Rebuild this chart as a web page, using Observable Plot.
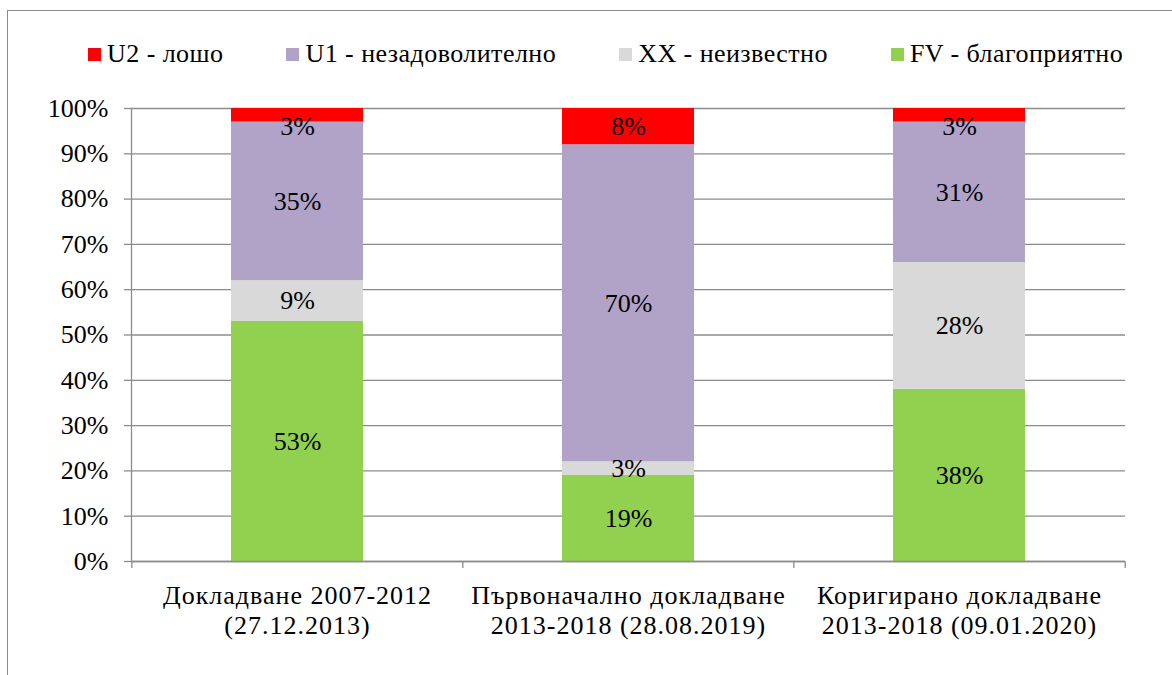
<!DOCTYPE html>
<html>
<head>
<meta charset="utf-8">
<script src="https://cdn.jsdelivr.net/npm/d3@7"></script>
<script src="https://cdn.jsdelivr.net/npm/@observablehq/plot@0.6"></script>
<style>
html,body{margin:0;padding:0;background:#fff;overflow:hidden;}
body{width:1172px;height:675px;position:relative;font-family:'Liberation Serif', serif;color:#000;}
#border{position:absolute;left:7px;top:10px;width:1200px;height:700px;border-left:1.5px solid #8a8a8a;border-top:1.5px solid #8a8a8a;}
#chart{position:absolute;left:0;top:0;width:1172px;}
#legend{height:90px;position:relative;}
#legend .row{position:absolute;left:88px;top:40px;height:28px;display:flex;align-items:center;gap:63px;font-family:'Liberation Serif', serif;font-size:26px;line-height:28px;letter-spacing:0.45px;white-space:nowrap;}
#legend .item{display:flex;align-items:center;}
#legend .sw{width:13px;height:13px;margin-right:6px;flex:none;}
</style>
</head>
<body>
<div id="border"></div>
<div id="chart">
  <div id="legend"><div class="row"></div></div>
  <div id="plot"></div>
</div>
<script>
// ---- data ----
const categories = ["Докладване 2007-2012", "Първоначално докладване", "Коригирано докладване"];
const categoryLabels = ["Докладване 2007-2012\n(27.12.2013)", "Първоначално докладване\n2013-2018 (28.08.2019)", "Коригирано докладване\n2013-2018 (09.01.2020)"];
const legendOrder = ["U2 - лошо", "U1 - незадоволително", "XX - неизвестно", "FV - благоприятно"];
const stackOrder = ["FV - благоприятно", "XX - неизвестно", "U1 - незадоволително", "U2 - лошо"];
const fvValues = [53, 19, 38];
const xxValues = [9, 3, 28];
const u1Values = [35, 70, 31];
const u2Values = [3, 8, 3];
const seriesColors = {"U2 - лошо": "#ff0000", "U1 - незадоволително": "#b1a2c8", "XX - неизвестно": "#d9d9d9", "FV - благоприятно": "#92d050"};
const yTicks = [0, 10, 20, 30, 40, 50, 60, 70, 80, 90, 100];

const valuesBySeries = {
  "FV - благоприятно": fvValues,
  "XX - неизвестно": xxValues,
  "U1 - незадоволително": u1Values,
  "U2 - лошо": u2Values
};

// build stacked table
const table = [];
categories.forEach((cat, i) => {
  let acc = 0;
  stackOrder.forEach(s => {
    const v = valuesBySeries[s][i];
    table.push({cat, series: s, value: v, y1: acc, y2: acc + v});
    acc += v;
  });
});
const labelOf = Object.fromEntries(categories.map((c, i) => [c, categoryLabels[i]]));

// legend
const row = document.querySelector("#legend .row");
legendOrder.forEach(s => {
  const it = document.createElement("div");
  it.className = "item";
  const sw = document.createElement("span");
  sw.className = "sw";
  sw.style.background = seriesColors[s];
  const tx = document.createElement("span");
  tx.textContent = s;
  it.appendChild(sw); it.appendChild(tx);
  row.appendChild(it);
});

// plot
const W = 1172, H = 585;
const mL = 131, mR = 47, mT = 18, mB = 114;
const pIn = 0.6, pOut = 0.3;
const step = (W - mL - mR) / (categories.length - pIn + 2 * pOut);
const gray = "#8c8c8c";
const serif = "'Liberation Serif', serif";

const chart = Plot.plot({
  width: W, height: H,
  marginLeft: mL, marginRight: mR, marginTop: mT, marginBottom: mB,
  style: {fontFamily: serif, fontSize: "26px", color: "#000", background: "transparent"},
  x: {domain: categories, paddingInner: pIn, paddingOuter: pOut, axis: null, label: null},
  y: {domain: [0, 100], axis: null, label: null},
  color: {domain: legendOrder, range: legendOrder.map(s => seriesColors[s])},
  marks: [
    Plot.gridY(yTicks, {stroke: gray, strokeOpacity: 1, strokeWidth: 1.3}),
    Plot.axisY(yTicks, {tickSize: 7, tickPadding: 16, tickFormat: d => d + "%", stroke: gray, strokeWidth: 1.3, fontSize: 26, fontFamily: serif, label: null}),
    Plot.barY(table, {x: "cat", y1: "y1", y2: "y2", fill: "series"}),
    Plot.ruleY([0], {stroke: gray, strokeWidth: 1.3}),
    Plot.frame({anchor: "left", stroke: gray, strokeWidth: 1.3}),
    Plot.axisX(categories, {tickSize: 7, tickFormat: () => "", dx: -step / 2, stroke: gray, strokeWidth: 1.3, label: null}),
    Plot.axisX([categories[categories.length - 1]], {tickSize: 7, tickFormat: () => "", dx: step / 2, stroke: gray, strokeWidth: 1.3, label: null}),
    Plot.axisX(categories, {tickSize: 0, tickPadding: 21, tickFormat: d => labelOf[d], lineHeight: 1.15, fontSize: 26, fontFamily: serif, label: null}),
    Plot.text(table, {x: "cat", y: d => Math.min((d.y1 + d.y2) / 2, 96), text: d => d.value + "%", fill: "#000", fontSize: 26, fontFamily: serif})
  ]
});
d3.select(chart).selectAll('g[aria-label="x-axis tick label"] text').style("letter-spacing", "1px");
document.getElementById("plot").appendChild(chart);
</script>
</body>
</html>
